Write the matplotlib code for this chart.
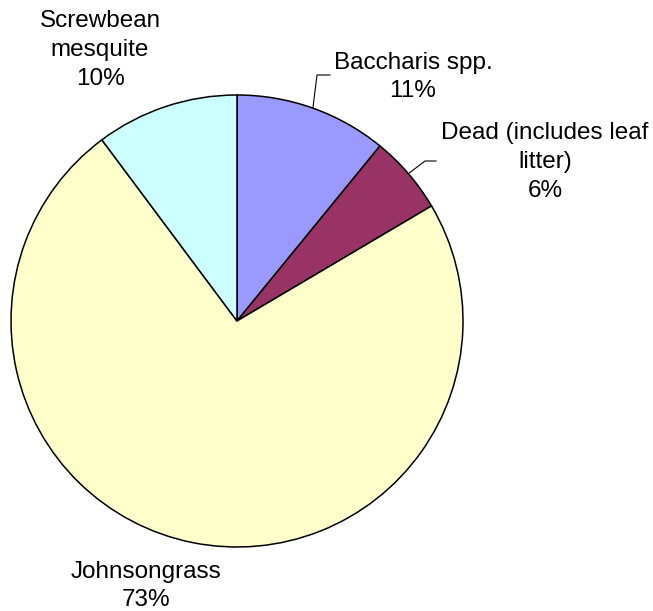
import numpy as np
import matplotlib
matplotlib.use('Agg')
import matplotlib.pyplot as plt

names = ['Baccharis spp.', 'Dead (includes leaf\nlitter)', 'Johnsongrass', 'Screwbean\nmesquite']
shares = [10.9, 5.6, 73.3, 10.2]
colors = ['#9999FF', '#993366', '#FFFFCC', '#CCFFFF']

W, H = 653, 611
plt.rcParams['font.family'] = ['Liberation Sans', 'DejaVu Sans']

fig = plt.figure(figsize=(W / 100, H / 100), dpi=100)
ax = fig.add_axes([0, 0, 1, 1])

cx, cy, r = 237, H - 321, 226
wedges, _ = ax.pie(shares, colors=colors, startangle=90, counterclock=False,
                   center=(cx, cy), radius=r, frame=True,
                   wedgeprops=dict(edgecolor='black', linewidth=1.1))
ax.set_xlim(0, W)
ax.set_ylim(0, H)
ax.set_aspect('equal')
ax.axis('off')

labels = [f'{n}\n{v:.0f}%' for n, v in zip(names, shares)]
# label centres in pixel coords (x, y from top)
label_pos = [(413, 77), (545, 162), (146, 586), (100, 50)]
for lab, (lx, ly) in zip(labels, label_pos):
    ax.text(lx, H - ly, lab, ha='center', va='center', fontsize=17.5,
            linespacing=1.4, color='black')

# leader lines for the two small slices on the right
elbows = {0: ((317, 75), (330, 75)), 1: ((425, 161), (436, 161))}
for i, (p1, p2) in elbows.items():
    w = wedges[i]
    mid = np.deg2rad((w.theta1 + w.theta2) / 2)
    ex, ey = cx + r * np.cos(mid), cy + r * np.sin(mid)
    ax.plot([ex, p1[0], p2[0]], [ey, H - p1[1], H - p2[1]], color='black', lw=0.8)

fig.savefig('out.png', dpi=100)
